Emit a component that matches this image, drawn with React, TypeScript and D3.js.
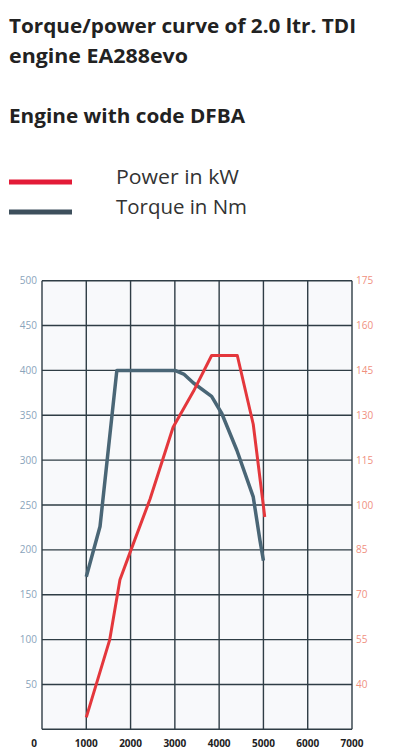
import React from "react";
import * as d3 from "d3";

const rpmTicks = [0, 1000, 2000, 3000, 4000, 5000, 6000, 7000];
const torqueTicks = [50, 100, 150, 200, 250, 300, 350, 400, 450, 500];
const powerTicks = [40, 55, 70, 85, 100, 115, 130, 145, 160, 175];

const torqueRpm = [1000, 1310, 1690, 3000, 3200, 3420, 3830, 4060, 4400, 4770, 4920, 5000];
const torqueNm = [170, 226, 400, 400, 396, 386, 371, 352, 311, 259, 211, 188];

const powerRpm = [1000, 1530, 1760, 2010, 2440, 2960, 3420, 3830, 4410, 4770, 5030];
const powerKw = [29, 55, 75, 85, 102, 126, 138, 150, 150, 127, 96];

const titleLines = ["Torque/power curve of 2.0 ltr. TDI", "engine EA288evo"];
const subtitle = "Engine with code DFBA";
const legendItems = ["Power in kW", "Torque in Nm"];

const RED = "#e4373c";
const SLATE = "#4a6676";
const GRID = "#2f3d45";

export default function App() {
  const x = d3.scaleLinear().domain([0, 7000]).range([42, 352]);
  const yT = d3.scaleLinear().domain([0, 500]).range([729.3, 280.7]);
  const yP = d3.scaleLinear().domain([25, 175]).range([729.3, 280.7]);

  const torqueLine = d3
    .line<number>()
    .x((_, i) => x(torqueRpm[i]))
    .y((d) => yT(d));
  const powerLine = d3
    .line<number>()
    .x((_, i) => x(powerRpm[i]))
    .y((d) => yP(d));

  const font = "'Open Sans', 'DejaVu Sans', sans-serif";

  return (
    <svg
      width={407}
      height={754}
      style={{ position: "absolute", left: 0, top: 0, background: "#fff" }}
    >
      <g fontFamily={font} fill="#222" fontSize={20} fontWeight={700}>
        <text x={9} y={33} textLength={347} lengthAdjust="spacingAndGlyphs">
          {titleLines[0]}
        </text>
        <text x={9} y={63} textLength={179} lengthAdjust="spacingAndGlyphs">
          {titleLines[1]}
        </text>
        <text x={9} y={123} textLength={236} lengthAdjust="spacingAndGlyphs">
          {subtitle}
        </text>
      </g>

      <line x1={9} x2={72} y1={182} y2={182} stroke="#e31b37" strokeWidth={5} />
      <line x1={9} x2={72} y1={212} y2={212} stroke="#3d4f5c" strokeWidth={5} />
      <text x={116} y={184} fontFamily={font} fontSize={20} fill="#333" textLength={123} lengthAdjust="spacingAndGlyphs">
        {legendItems[0]}
      </text>
      <text x={116} y={214} fontFamily={font} fontSize={20} fill="#333" textLength={131} lengthAdjust="spacingAndGlyphs">
        {legendItems[1]}
      </text>

      <rect
        x={x(0)}
        y={yT(500)}
        width={x(7000) - x(0)}
        height={yT(0) - yT(500)}
        fill="#f8f9fb"
      />

      {[0, ...torqueTicks].map((t) => (
        <line
          key={"h" + t}
          x1={x(0)}
          x2={x(7000)}
          y1={yT(t)}
          y2={yT(t)}
          stroke={GRID}
          strokeWidth={1.4}
        />
      ))}
      {rpmTicks.map((t) => (
        <line
          key={"v" + t}
          x1={x(t)}
          x2={x(t)}
          y1={yT(0)}
          y2={yT(500)}
          stroke={GRID}
          strokeWidth={1.4}
        />
      ))}

      {torqueTicks.map((t) => (
        <text
          key={"lt" + t}
          x={x(0) - 5}
          y={yT(t) + 3.5}
          textAnchor="end"
          fontFamily={font}
          fontSize={10}
          fill="#8aa4bb"
        >
          {t}
        </text>
      ))}
      {powerTicks.map((t) => (
        <text
          key={"rt" + t}
          x={x(7000) + 4}
          y={yP(t) + 3.5}
          textAnchor="start"
          fontFamily={font}
          fontSize={10}
          fill="#f0907f"
        >
          {t}
        </text>
      ))}
      {rpmTicks.map((t) => (
        <text
          key={"bt" + t}
          x={t === 0 ? x(t) - 8 : x(t)}
          y={747}
          textAnchor="middle"
          fontFamily={font}
          fontSize={10}
          fontWeight={700}
          fill="#222"
        >
          {t}
        </text>
      ))}

      <path
        d={torqueLine(torqueNm) || ""}
        fill="none"
        stroke={SLATE}
        strokeWidth={3.5}
        strokeLinejoin="round"
      />
      <path
        d={powerLine(powerKw) || ""}
        fill="none"
        stroke={RED}
        strokeWidth={3}
        strokeLinejoin="round"
      />
    </svg>
  );
}
